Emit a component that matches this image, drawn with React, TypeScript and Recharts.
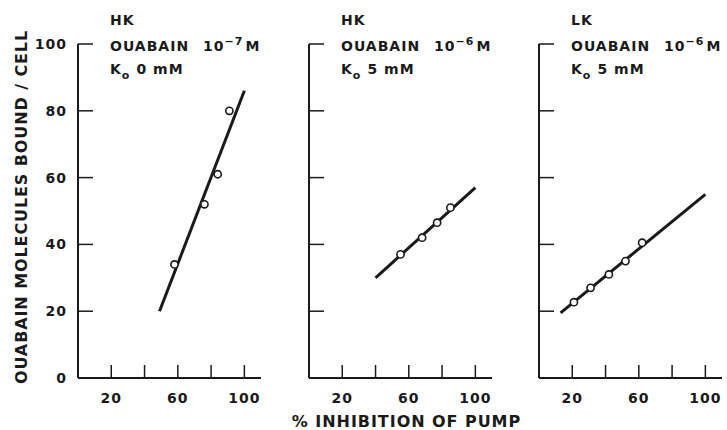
import React from 'react'
import { ComposedChart, XAxis, YAxis, Line, Scatter, Label } from 'recharts'

const xTicks = [20, 40, 60, 80, 100]
const xLabelled = [20, 60, 100]
const yTicks = [0, 20, 40, 60, 80, 100]

// HK cells, ouabain 10-7 M, Ko 0 mM
const hk7Inhib = [58, 76, 84, 91]
const hk7Bound = [34, 52, 61, 80]
const hk7FitX = [49, 100]
const hk7FitY = [20, 86]

// HK cells, ouabain 10-6 M, Ko 5 mM
const hk6Inhib = [55, 68, 77, 85]
const hk6Bound = [37, 42, 46.5, 51]
const hk6FitX = [40, 100]
const hk6FitY = [30, 57]

// LK cells, ouabain 10-6 M, Ko 5 mM
const lk6Inhib = [21, 31, 42, 52, 62]
const lk6Bound = [22.7, 27, 31, 35, 40.5]
const lk6FitX = [13, 100]
const lk6FitY = [19.5, 55]

const ink = '#1a1a1a'
const font = '"DejaVu Sans", sans-serif'

const toPoints = (xs: number[], ys: number[]) => xs.map((x, i) => ({ x, y: ys[i] }))

type PanelProps = {
  left: number
  width: number
  axisWidth: number
  showY: boolean
  cell: string
  power: string
  ko: string
  xs: number[]
  ys: number[]
  fitX: number[]
  fitY: number[]
  children?: React.ReactNode
  xTitle?: string
}

const Ring = (props: any) =>
  <circle cx={props.cx} cy={props.cy} r={3.6} fill="#fff" stroke={ink} strokeWidth={1.6} />

const Panel = ({ left, width, axisWidth, showY, cell, power, ko, xs, ys, fitX, fitY, children, xTitle }: PanelProps) => {
  const tx = axisWidth + 32
  const tickStyle = { fill: ink, fontSize: 14, fontWeight: 700, fontFamily: font, letterSpacing: 1 }
  return (
    <div style={{ position: 'absolute', left, top: 0 }}>
      <ComposedChart
        width={width}
        height={430}
        margin={{ top: 44, right: width - axisWidth - 183, left: 0, bottom: 0 }}
      >
        <XAxis
          type="number"
          dataKey="x"
          domain={[0, 110]}
          ticks={xTicks}
          interval={0}
          height={52}
          tickSize={-13}
          tickMargin={28}
          tick={tickStyle}
          tickFormatter={(v: number) => (xLabelled.includes(v) ? String(v) : '')}
          axisLine={{ stroke: ink, strokeWidth: 2 }}
          tickLine={{ stroke: ink, strokeWidth: 1.5 }}
        >
          {xTitle &&
            <Label
              value={xTitle}
              position="insideBottom"
              offset={3}
              dx={6}
              style={{ fill: ink, fontSize: 16, fontWeight: 700, fontFamily: font, letterSpacing: 0.95 }}
            />}
        </XAxis>
        <YAxis
          type="number"
          dataKey="y"
          domain={[0, 100]}
          ticks={yTicks}
          interval={0}
          width={axisWidth}
          tickSize={-15}
          tickMargin={26}
          tick={tickStyle}
          tickFormatter={(v: number) => (showY ? String(v) : '')}
          axisLine={{ stroke: ink, strokeWidth: 2 }}
          tickLine={{ stroke: ink, strokeWidth: 1.5 }}
        />
        <Line
          data={toPoints(fitX, fitY)}
          dataKey="y"
          type="linear"
          stroke={ink}
          strokeWidth={3}
          dot={false}
          activeDot={false}
          isAnimationActive={false}
        />
        <Scatter data={toPoints(xs, ys)} dataKey="y" shape={Ring} isAnimationActive={false} />
        <text fontFamily={font} fontWeight={700} fontSize={14} fill={ink} letterSpacing={1}>
          <tspan x={tx} y={25}>{cell}</tspan>
          <tspan x={tx} y={51}>OUABAIN</tspan>
          <tspan dx={14}>10</tspan>
          <tspan dy={-6} fontSize={11}>{power}</tspan>
          <tspan dy={6} dx={2}>M</tspan>
          <tspan x={tx} y={74}>K</tspan>
          <tspan dy={5} fontSize={11}>o</tspan>
          <tspan dy={-5} dx={6}>{ko}</tspan>
        </text>
        {children}
      </ComposedChart>
    </div>
  )
}

const App = () =>
  <div style={{ position: 'absolute', left: 0, top: 0, width: 727, height: 430, background: '#fff', overflow: 'hidden' }}>
    <Panel
      left={0} width={275} axisWidth={78} showY
      cell="HK" power="−7" ko="0 mM"
      xs={hk7Inhib} ys={hk7Bound} fitX={hk7FitX} fitY={hk7FitY}
    >
      <text
        x={21}
        y={207}
        transform="rotate(-90, 21, 207)"
        textAnchor="middle"
        dominantBaseline="central"
        fontFamily={font}
        fontWeight={700}
        fontSize={16}
        letterSpacing={0.9}
        fill={ink}
      >
        OUABAIN MOLECULES BOUND / CELL
      </text>
    </Panel>
    <Panel
      left={510} width={217} axisWidth={29} showY={false}
      cell="LK" power="−6" ko="5 mM"
      xs={lk6Inhib} ys={lk6Bound} fitX={lk6FitX} fitY={lk6FitY}
    />
    <Panel
      left={280} width={250} axisWidth={29} showY={false}
      cell="HK" power="−6" ko="5 mM"
      xs={hk6Inhib} ys={hk6Bound} fitX={hk6FitX} fitY={hk6FitY}
      xTitle="% INHIBITION OF PUMP"
    />
  </div>

export default App
